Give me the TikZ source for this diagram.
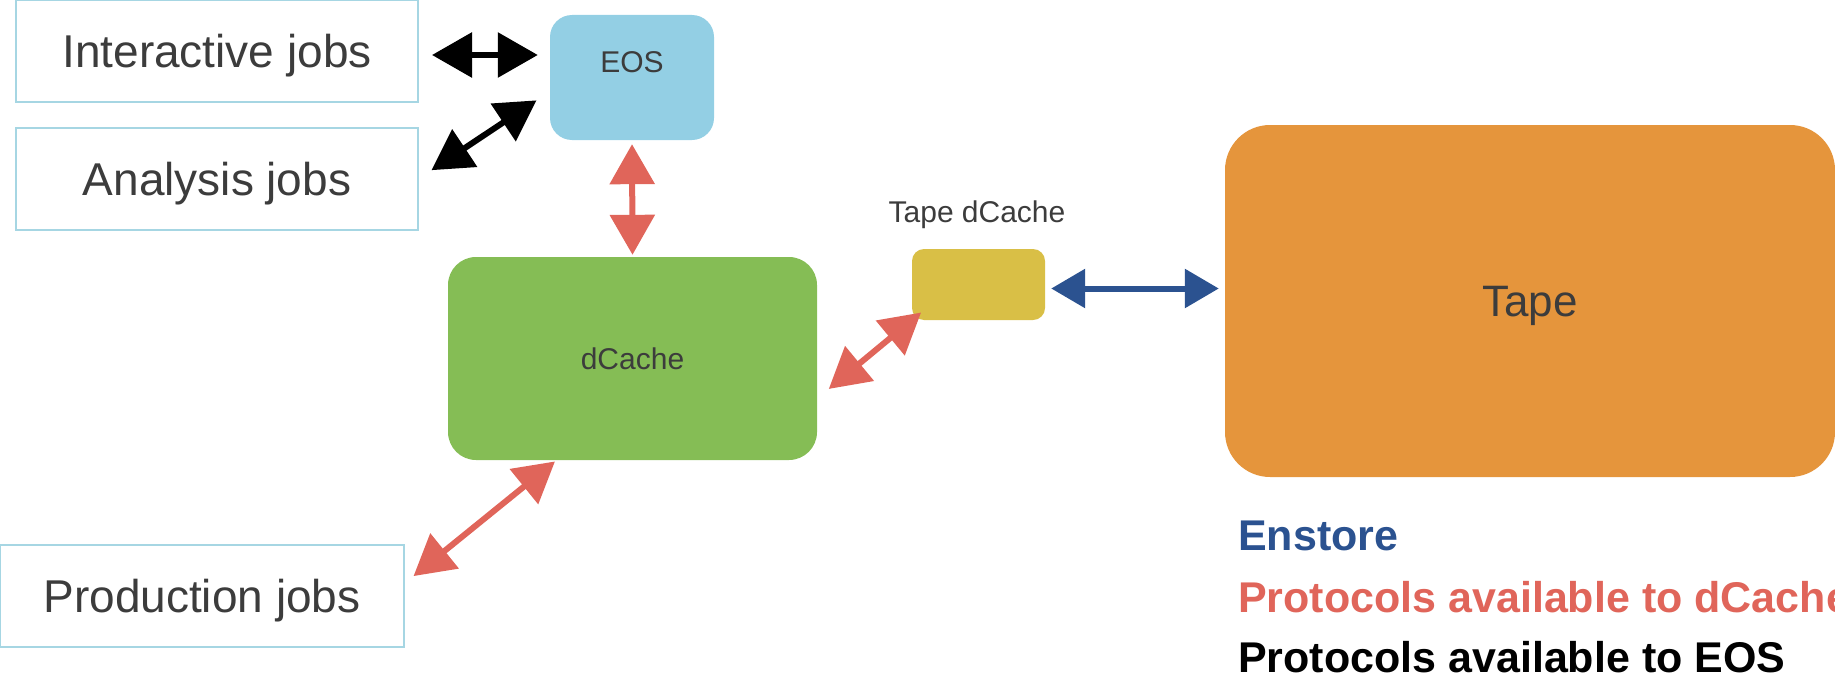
\documentclass[tikz,border=0pt]{standalone}
\usepackage{fontspec}
\setmainfont{Liberation Sans}
\usetikzlibrary{arrows.meta}
\definecolor{txtgray}{HTML}{3C3C3C}
\definecolor{jobborder}{HTML}{A6D6E3}
\definecolor{eosblue}{HTML}{93CFE4}
\definecolor{dcgreen}{HTML}{85BD55}
\definecolor{tdcyellow}{HTML}{D9BF46}
\definecolor{tapeorange}{HTML}{E5953C}
\definecolor{protored}{HTML}{E0655A}
\definecolor{enblue}{HTML}{2B5290}
\tikzset{
  jobbox/.style={draw=jobborder, line width=2pt, fill=white, inner sep=0pt,
    minimum width=402pt, minimum height=102pt, text=txtgray,
    text height=33pt, text depth=0pt,
    font=\fontsize{46}{50}\selectfont},
  storebox/.style={rounded corners=22pt, inner sep=0pt, text=txtgray},
  lbltext/.style={text=txtgray, inner sep=0pt, text height=21.5pt, text depth=0pt,
    font=\fontsize{30}{34}\selectfont},
  legendtext/.style={anchor=west, inner sep=0pt, font=\bfseries\fontsize{43}{47}\selectfont},
  biarrow/.style={line width=6pt, {Triangle[length=40pt,width=44pt]}-{Triangle[length=40pt,width=44pt]}},
  blackarrow/.style={biarrow, draw=black},
  redarrow/.style={biarrow, draw=protored},
  bluearrow/.style={line width=6pt, draw=enblue, {Triangle[length=34pt,width=38pt]}-{Triangle[length=34pt,width=38pt]}}
}
\begin{document}
\begin{tikzpicture}[x=1pt,y=-1pt]
\useasboundingbox (0,0) rectangle (1835,677);

% job boxes
\node[jobbox] (int) at (217,51) {Interactive jobs};
\node[jobbox] (ana) at (217,178.5) {Analysis jobs};
\node[jobbox, minimum width=404pt] (prod) at (202,596) {Production jobs};

% storage boxes
\node[storebox, fill=eosblue, minimum width=164pt, minimum height=125pt] (eos) at (632,77.5) {};
\node[lbltext] (eoslbl) at ([yshift=-47pt]eos.north) {EOS};
\node[storebox, fill=dcgreen, minimum width=369pt, minimum height=203pt, rounded corners=28pt,
      text height=21.5pt, text depth=0pt,
      font=\fontsize{30}{34}\selectfont] (dc) at (632.5,358.5) {dCache};
\node[storebox, fill=tdcyellow, minimum width=133pt, minimum height=71pt, rounded corners=12pt] (tdc) at (978.5,284.5) {};
\node[lbltext] (tdclbl) at (977,212) {Tape dCache};
\node[storebox, fill=tapeorange, minimum width=610pt, minimum height=352pt, rounded corners=45pt,
      text height=31.5pt, text depth=0pt,
      font=\fontsize{44}{48}\selectfont] (tape) at (1530,301) {Tape};

% connectors
\draw[blackarrow, shorten <=13pt, shorten >=12pt] ([yshift=-4pt]int.east) -- ([yshift=-4pt]int.east -| eos.west);
\draw[blackarrow, shorten <=15pt, shorten >=16pt] (ana.east) -- ([yshift=-14pt]eos.west);
\draw[redarrow, shorten <=4pt, shorten >=2pt] (eos.south) -- (dc.north);
\draw[redarrow, shorten <=15pt, shorten >=-12pt] ([yshift=-40pt]dc.east) -- (tdc.south west);
\draw[redarrow, shorten <=2pt, shorten >=11pt] ([xshift=-76pt]dc.south) -- ([yshift=-39pt]prod.north east);
\draw[bluearrow, shorten <=6pt, shorten >=6pt] ([yshift=-4pt]tdc.east) -- ([yshift=-4pt]tdc.east -| tape.west);

% legend
\node[legendtext, text=enblue] (leg1) at (1238,536) {Enstore};
\node[legendtext, text=protored] (leg2) at (1238,597) {Protocols available to dCache};
\node[legendtext, text=black] (leg3) at (1238,657) {Protocols available to EOS};
\end{tikzpicture}
\end{document}
